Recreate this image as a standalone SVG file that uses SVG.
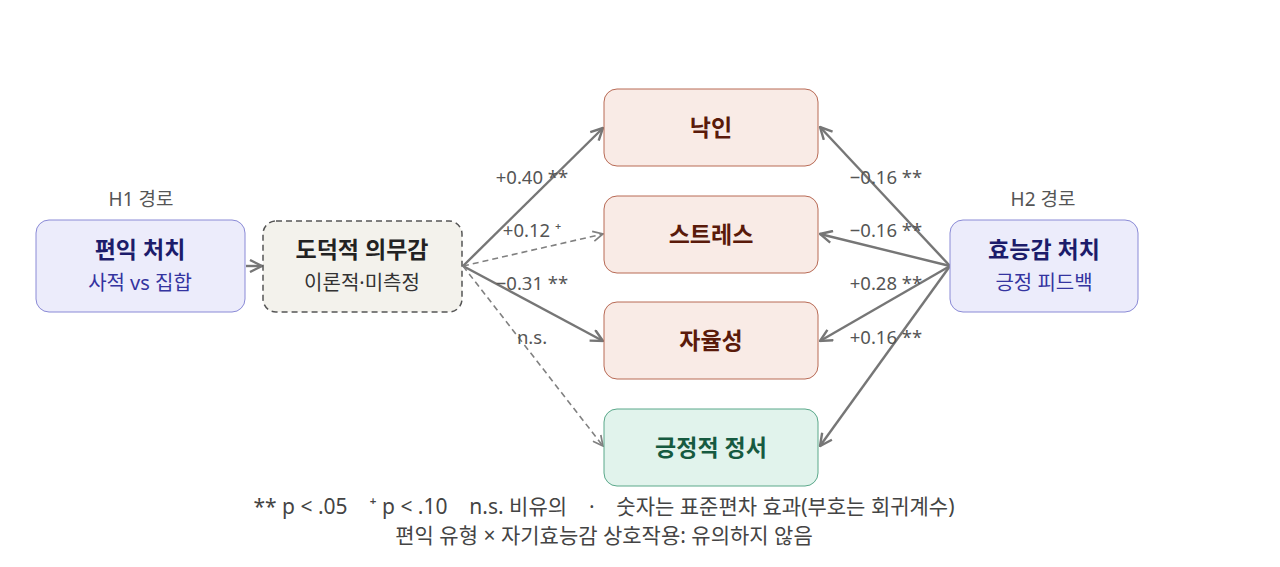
<svg xmlns="http://www.w3.org/2000/svg" width="1280" height="567" viewBox="0 0 1280 567">
<style>
text{font-family:"Noto Sans","Noto Sans CJK KR",sans-serif;text-anchor:middle}
.t{font-size:23px;font-weight:bold}
.s{font-size:20px}
.lbl{font-size:18.5px;fill:#555}
.hd{font-size:19px;fill:#555}
.blue rect{fill:#ececfb;stroke:#8a8ad6;stroke-width:1}
.blue .t{fill:#1c1c6b}
.blue .s{fill:#3434a0}
.out rect{fill:#f9ebe6;stroke:#b86a55;stroke-width:1}
.out text{fill:#5a1a0a}
.grn rect{fill:#e1f3ec;stroke:#5aa88a;stroke-width:1}
.grn text{fill:#165a40}
.sol{stroke:#767676;stroke-width:2.4;fill:none}
.dsh{stroke:#808080;stroke-width:1.6;fill:none;stroke-dasharray:6 4}
.foot{font-size:21px;fill:#444}
</style>
<defs>
<marker id="ah" viewBox="0 0 14 14" refX="13" refY="7" markerWidth="14" markerHeight="14" markerUnits="userSpaceOnUse" orient="auto"><path d="M1,1 L13,7 L1,13" fill="none" stroke="#767676" stroke-width="2.4"/></marker>
<marker id="ahd" viewBox="0 0 12 12" refX="11" refY="6" markerWidth="12" markerHeight="12" markerUnits="userSpaceOnUse" orient="auto"><path d="M1,1 L11,6 L1,11" fill="none" stroke="#808080" stroke-width="1.7"/></marker>
</defs>
<text class="hd" x="141" y="206">H1 경로</text>
<text class="hd" x="1043" y="206">H2 경로</text>
<g id="connectors">
<line class="sol" x1="246" y1="266" x2="262" y2="266" marker-end="url(#ah)"/>
<line class="sol" x1="463" y1="266" x2="603" y2="128" marker-end="url(#ah)"/>
<line class="dsh" x1="463" y1="266" x2="603" y2="234" marker-end="url(#ahd)"/>
<line class="sol" x1="463" y1="266" x2="603" y2="341" marker-end="url(#ah)"/>
<line class="dsh" x1="463" y1="266" x2="603" y2="446" marker-end="url(#ahd)"/>
<line class="sol" x1="950" y1="266" x2="820" y2="127" marker-end="url(#ah)"/>
<line class="sol" x1="950" y1="266" x2="820" y2="234" marker-end="url(#ah)"/>
<line class="sol" x1="950" y1="266" x2="820" y2="341" marker-end="url(#ah)"/>
<line class="sol" x1="950" y1="266" x2="820" y2="446" marker-end="url(#ah)"/>
<text class="lbl" x="532" y="184">+0.40 **</text>
<text class="lbl" x="532" y="237">+0.12 ⁺</text>
<text class="lbl" x="532" y="290">−0.31 **</text>
<text class="lbl" x="532" y="344">n.s.</text>
<text class="lbl" x="886" y="184">−0.16 **</text>
<text class="lbl" x="886" y="237">−0.16 **</text>
<text class="lbl" x="886" y="290">+0.28 **</text>
<text class="lbl" x="886" y="344">+0.16 **</text>
</g>
<g id="n_benefit" class="blue">
<rect x="36" y="220" width="209" height="92" rx="13"/>
<text class="t" x="140" y="258">편익 처치</text>
<text class="s" x="140" y="290">사적 vs 집합</text>
</g>
<g id="n_moral">
<rect x="263" y="221" width="199" height="91" rx="13" fill="#f3f2ec" stroke="#555" stroke-width="1.5" stroke-dasharray="6 4"/>
<text class="t" x="362" y="258" fill="#222">도덕적 의무감</text>
<text class="s" x="362" y="290" fill="#333">이론적·미측정</text>
</g>
<g id="n_stigma" class="out">
<rect x="604" y="89" width="214" height="77" rx="13"/>
<text class="t" x="711" y="136">낙인</text>
</g>
<g id="n_stress" class="out">
<rect x="604" y="196" width="214" height="77" rx="13"/>
<text class="t" x="711" y="243">스트레스</text>
</g>
<g id="n_autonomy" class="out">
<rect x="604" y="302" width="214" height="77" rx="13"/>
<text class="t" x="711" y="349">자율성</text>
</g>
<g id="n_positive" class="grn">
<rect x="604" y="409" width="214" height="77" rx="13"/>
<text class="t" x="711" y="456">긍정적 정서</text>
</g>
<g id="n_efficacy" class="blue">
<rect x="950" y="220" width="188" height="92" rx="13"/>
<text class="t" x="1044" y="258">효능감 처치</text>
<text class="s" x="1044" y="290">긍정 피드백</text>
</g>
<text class="foot" x="604" y="514" xml:space="preserve">** p &lt; .05    ⁺ p &lt; .10    n.s. 비유의    ·    숫자는 표준편차 효과(부호는 회귀계수)</text>
<text class="foot" x="604" y="543">편익 유형 × 자기효능감 상호작용: 유의하지 않음</text>
</svg>
